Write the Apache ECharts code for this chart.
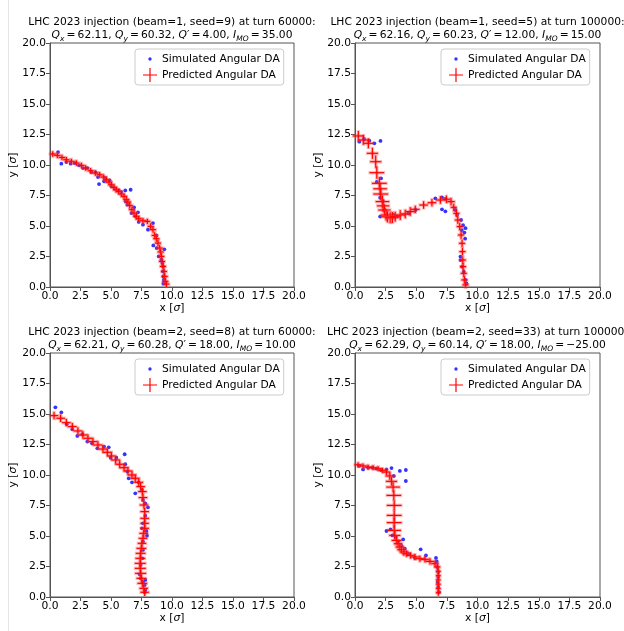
<!DOCTYPE html>
<html>
<head>
<meta charset="utf-8">
<script src="https://cdn.jsdelivr.net/npm/echarts@6/dist/echarts.min.js"></script>
<style>html,body{margin:0;padding:0;background:#fff}#c{width:624px;height:631px}</style>
</head>
<body>
<div id="c"></div>
<script>
// ---------- DATA ----------
const xTicks = [0, 2.5, 5, 7.5, 10, 12.5, 15, 17.5, 20];
const yTicks = [0, 2.5, 5, 7.5, 10, 12.5, 15, 17.5, 20];
const legendNames = ['Simulated Angular DA', 'Predicted Angular DA'];

const titles1 = [
  'LHC 2023 injection (beam=1, seed=9) at turn 60000:',
  'LHC 2023 injection (beam=1, seed=5) at turn 100000:',
  'LHC 2023 injection (beam=2, seed=8) at turn 60000:',
  'LHC 2023 injection (beam=2, seed=33) at turn 100000:'
];
const qx = ['62.11', '62.16', '62.21', '62.29'];
const qy = ['60.32', '60.23', '60.28', '60.14'];
const qp = ['4.00', '12.00', '18.00', '18.00'];
const imo = ['35.00', '15.00', '10.00', '\u221225.00'];

// Simulated angular DA [x, y]
const simTL = [[0.66,11.06],[0.93,10.11],[1.34,10.24],[1.69,10.11],[2.02,10.16],[2.38,9.97],[2.70,9.75],[3.06,9.75],[3.39,9.42],[3.74,9.40],[3.93,9.01],[4.02,8.44],[4.43,8.66],[4.54,8.93],[4.89,8.74],[5.03,8.25],[5.30,8.06],[5.63,7.92],[5.85,7.78],[6.17,7.92],[6.61,7.97],[6.20,7.02],[6.34,6.75],[6.67,6.06],[6.89,6.53],[7.00,5.79],[7.21,6.12],[7.27,5.33],[7.62,5.11],[8.03,4.70],[8.44,5.24],[8.47,3.41],[8.72,4.23],[8.74,3.19],[8.91,2.51],[9.37,3.09],[9.13,2.24],[9.21,1.96],[9.26,1.69],[9.26,1.28],[9.29,0.87],[9.34,0.60],[9.29,0.27]];
const simTR = [[0.35,11.91],[0.74,12.13],[1.17,11.99],[1.58,11.78],[2.08,11.97],[2.13,8.91],[1.78,8.61],[2.05,7.32],[2.27,7.05],[2.40,6.37],[2.05,5.77],[2.60,5.82],[3.14,5.90],[3.47,5.77],[4.37,6.04],[4.95,6.31],[6.56,7.27],[7.10,7.35],[7.38,7.22],[7.10,6.37],[7.38,6.20],[8.20,6.31],[8.33,5.90],[8.66,5.49],[8.82,5.06],[9.02,4.82],[8.93,4.46],[8.99,3.96],[8.72,4.67],[8.61,2.49],[8.61,2.21],[8.74,1.67],[8.88,1.26],[9.02,0.58],[9.10,0.30]];
const simBL = [[0.44,15.55],[0.93,15.14],[1.37,14.16],[1.83,13.75],[2.24,13.20],[2.65,13.34],[3.06,12.74],[3.44,12.60],[3.88,12.19],[4.43,12.33],[4.81,12.27],[4.97,11.42],[5.44,11.42],[6.12,11.70],[6.17,10.88],[6.34,10.28],[6.45,9.73],[6.72,9.40],[6.99,8.50],[7.27,9.40],[7.54,8.77],[7.62,7.95],[7.81,7.68],[8.03,7.35],[7.81,6.67],[7.62,6.04],[7.54,5.63],[7.90,5.41],[7.95,5.03],[7.62,4.54],[7.62,3.86],[7.57,3.17],[7.43,2.63],[7.35,1.86],[7.43,1.53],[7.81,1.40],[7.62,1.21],[7.76,0.99],[7.81,0.58],[7.76,0.39]];
const simBR = [[0.33,10.74],[0.66,10.46],[1.07,10.60],[1.42,10.60],[1.75,10.52],[2.16,10.38],[2.57,10.46],[2.98,10.57],[3.17,9.92],[3.66,10.33],[4.15,10.41],[4.15,9.51],[2.57,5.41],[2.90,5.55],[3.06,5.05],[3.33,4.92],[3.93,4.72],[3.52,4.56],[3.80,4.18],[4.07,3.96],[4.34,3.55],[4.89,3.20],[5.36,3.91],[5.79,3.41],[6.61,3.20],[6.67,2.92],[6.72,2.46],[6.80,2.05],[6.80,1.64],[6.75,1.23],[6.80,0.82],[6.86,0.41]];

// Predicted angular DA [x, y, xerr, yerr]
const predTL = [[0.22,10.90,0.25,0.22],[0.60,10.79,0.25,0.22],[0.98,10.62,0.25,0.22],[1.34,10.43,0.25,0.22],[1.75,10.30,0.25,0.22],[2.16,10.16,0.25,0.22],[2.57,9.97,0.25,0.22],[2.92,9.75,0.25,0.22],[3.33,9.53,0.25,0.22],[3.72,9.34,0.25,0.22],[4.07,9.20,0.25,0.22],[4.40,9.01,0.25,0.22],[4.62,8.79,0.25,0.22],[4.84,8.60,0.25,0.22],[5.03,8.38,0.25,0.22],[5.25,8.17,0.25,0.22],[5.44,7.97,0.25,0.22],[5.63,7.84,0.25,0.22],[5.85,7.62,0.25,0.22],[6.07,7.43,0.25,0.22],[6.26,7.16,0.25,0.25],[6.39,6.96,0.25,0.25],[6.53,6.69,0.25,0.25],[6.72,6.34,0.25,0.25],[6.89,6.06,0.25,0.25],[7.08,5.79,0.25,0.25],[7.27,5.60,0.25,0.22],[7.62,5.43,0.25,0.22],[7.98,5.38,0.25,0.22],[8.25,4.97,0.25,0.25],[8.44,4.70,0.25,0.25],[8.58,4.23,0.25,0.25],[8.72,3.96,0.25,0.25],[8.85,3.60,0.25,0.25],[8.99,3.19,0.25,0.25],[9.07,2.87,0.25,0.25],[9.13,2.51,0.25,0.25],[9.18,2.10,0.25,0.25],[9.26,1.69,0.25,0.25],[9.34,1.28,0.25,0.25],[9.40,0.87,0.25,0.25],[9.45,0.46,0.25,0.25],[9.54,0.24,0.25,0.25]];
const predTR = [[0.27,12.38,0.45,0.4],[0.68,12.05,0.4,0.4],[1.09,11.78,0.4,0.4],[1.42,10.96,0.45,0.45],[1.69,10.27,0.45,0.5],[1.78,9.37,0.6,0.5],[1.99,8.50,0.6,0.5],[2.05,8.05,0.55,0.5],[2.10,7.62,0.6,0.5],[2.24,7.00,0.55,0.5],[2.30,6.65,0.5,0.5],[2.40,6.31,0.5,0.45],[2.54,5.90,0.45,0.45],[2.65,5.75,0.45,0.45],[2.87,5.68,0.4,0.45],[3.05,5.70,0.4,0.45],[3.28,5.77,0.4,0.4],[3.69,5.90,0.4,0.4],[4.10,5.99,0.35,0.35],[4.51,6.18,0.35,0.35],[4.92,6.37,0.35,0.3],[5.60,6.72,0.35,0.3],[6.28,6.91,0.35,0.3],[6.97,7.13,0.35,0.3],[7.46,7.19,0.3,0.3],[7.84,7.00,0.3,0.3],[8.06,6.53,0.25,0.3],[8.28,6.04,0.25,0.3],[8.39,5.49,0.25,0.3],[8.55,4.95,0.25,0.3],[8.66,4.26,0.25,0.3],[8.74,3.58,0.25,0.3],[8.77,2.90,0.25,0.3],[8.80,2.21,0.25,0.3],[8.82,1.67,0.25,0.3],[8.88,1.12,0.25,0.3],[8.93,0.58,0.25,0.3],[9.02,0.17,0.25,0.25]];
const predBL = [[0.33,14.87,0.35,0.3],[0.87,14.65,0.35,0.3],[1.34,14.29,0.35,0.3],[1.83,13.97,0.35,0.3],[2.29,13.61,0.35,0.3],[2.70,13.28,0.35,0.3],[3.11,13.01,0.35,0.3],[3.52,12.74,0.35,0.3],[3.93,12.46,0.35,0.3],[4.34,12.13,0.35,0.3],[4.70,11.86,0.35,0.3],[5.03,11.56,0.35,0.3],[5.38,11.23,0.35,0.3],[5.71,10.88,0.35,0.3],[6.07,10.60,0.35,0.3],[6.39,10.33,0.35,0.3],[6.72,10.00,0.35,0.3],[6.99,9.73,0.35,0.3],[7.27,9.40,0.35,0.3],[7.43,9.05,0.35,0.3],[7.57,8.64,0.35,0.3],[7.62,8.15,0.35,0.3],[7.70,7.54,0.35,0.3],[7.76,7.00,0.35,0.3],[7.76,6.45,0.35,0.3],[7.76,6.04,0.35,0.3],[7.76,5.63,0.35,0.3],[7.68,5.22,0.35,0.3],[7.62,4.81,0.35,0.3],[7.54,4.40,0.35,0.3],[7.49,3.99,0.4,0.3],[7.43,3.58,0.4,0.3],[7.40,3.17,0.4,0.3],[7.40,2.76,0.45,0.3],[7.40,2.35,0.45,0.3],[7.43,1.94,0.45,0.3],[7.49,1.53,0.4,0.3],[7.57,1.12,0.4,0.3],[7.68,0.71,0.35,0.3],[7.76,0.39,0.35,0.3]];
const predBR = [[0.25,10.84,0.3,0.2],[0.66,10.74,0.3,0.2],[1.07,10.65,0.3,0.2],[1.48,10.60,0.3,0.2],[1.89,10.52,0.3,0.2],[2.24,10.38,0.3,0.2],[2.57,10.24,0.3,0.25],[2.84,9.92,0.35,0.3],[2.98,9.48,0.45,0.35],[3.11,9.01,0.55,0.4],[3.17,8.33,0.6,0.4],[3.20,7.51,0.6,0.4],[3.20,6.69,0.6,0.4],[3.20,6.10,0.6,0.4],[3.20,5.46,0.55,0.4],[3.25,5.05,0.45,0.35],[3.39,4.64,0.4,0.35],[3.52,4.37,0.35,0.3],[3.66,4.10,0.35,0.3],[3.80,3.88,0.35,0.3],[3.99,3.69,0.35,0.3],[4.21,3.55,0.35,0.25],[4.53,3.41,0.35,0.25],[4.89,3.28,0.35,0.25],[5.30,3.14,0.35,0.25],[5.71,3.09,0.35,0.25],[6.12,2.92,0.35,0.25],[6.53,2.73,0.3,0.25],[6.72,2.46,0.25,0.25],[6.80,2.10,0.2,0.25],[6.80,1.75,0.2,0.25],[6.80,1.40,0.2,0.25],[6.80,1.05,0.2,0.25],[6.80,0.70,0.2,0.25],[6.80,0.35,0.2,0.25]];

const simAll = [simTL, simTR, simBL, simBR];
const predAll = [predTL, predTR, predBL, predBR];

// ---------- LAYOUT ----------
const FONT = 'DejaVu Sans';
const FS = 10.7;
const grids = [
  {left: 50, top: 43, width: 244, height: 244},
  {left: 355, top: 43, width: 245, height: 244},
  {left: 50, top: 353, width: 244, height: 244},
  {left: 355, top: 353, width: 245, height: 244}
];
const legendPos = [[135, 49], [441, 49], [135, 359], [441, 359]];
const titleY = [[22, 35], [22, 35], [332, 345], [332, 345]];

function crossItem(params, api) {
  const x = api.value(0), y = api.value(1), ex = api.value(2), ey = api.value(3);
  const c = api.coord([x, y]);
  const l = api.coord([x - ex, y]), r = api.coord([x + ex, y]);
  const t = api.coord([x, y + ey]), b = api.coord([x, y - ey]);
  const halo = {stroke: 'rgba(255,60,60,0.35)', lineWidth: 3.5};
  const core = {stroke: '#ff0000', lineWidth: 1.2};
  return {type: 'group', children: [
    {type: 'line', shape: {x1: l[0] - 1, y1: c[1], x2: r[0] + 1, y2: c[1]}, style: halo},
    {type: 'line', shape: {x1: c[0], y1: t[1] - 1, x2: c[0], y2: b[1] + 1}, style: halo},
    {type: 'line', shape: {x1: l[0], y1: c[1], x2: r[0], y2: c[1]}, style: core},
    {type: 'line', shape: {x1: c[0], y1: t[1], x2: c[0], y2: b[1]}, style: core}
  ]};
}

const xAxes = [], yAxes = [], series = [], legends = [], graphics = [];
const axisCommon = {
  min: 0, max: 20, interval: 2.5,
  axisLine: {show: true, onZero: false, lineStyle: {color: '#555', width: 1}},
  axisTick: {show: true, inside: false, length: 4, lineStyle: {color: '#555'}},
  splitLine: {show: false},
  axisLabel: {color: '#000', fontFamily: FONT, fontSize: FS, formatter: v => v.toFixed(1)}
};
const nameRich = {
  n: {fontFamily: FONT, fontSize: FS, color: '#000'},
  i: {fontFamily: FONT, fontSize: FS, color: '#000', fontStyle: 'italic'}
};

for (let k = 0; k < 4; k++) {
  xAxes.push(Object.assign({}, axisCommon, {
    type: 'value', gridIndex: k, name: '{n|x [}{i|\u03c3}{n|]}',
    nameLocation: 'middle', nameGap: 16, nameTextStyle: {rich: nameRich},
    axisLabel: Object.assign({}, axisCommon.axisLabel, {margin: 4})
  }));
  yAxes.push(Object.assign({}, axisCommon, {
    type: 'value', gridIndex: k, name: '{n|y [}{i|\u03c3}{n|]}',
    nameLocation: 'middle', nameGap: 28, nameRotate: 90, nameTextStyle: {rich: nameRich},
    axisLabel: Object.assign({}, axisCommon.axisLabel, {margin: 4})
  }));
  series.push({
    type: 'scatter', name: legendNames[0], xAxisIndex: k, yAxisIndex: k,
    data: simAll[k], symbol: 'circle', symbolSize: 3.8,
    itemStyle: {color: '#0000ff'}, z: 2, silent: true
  });
  series.push({
    type: 'custom', name: legendNames[1], xAxisIndex: k, yAxisIndex: k,
    data: predAll[k], renderItem: crossItem, itemStyle: {color: '#ff0000'}, z: 3, silent: true,
    encode: {x: 0, y: 1}
  });
  legends.push({
    left: legendPos[k][0], top: legendPos[k][1], orient: 'vertical',
    backgroundColor: 'rgba(255,255,255,0.8)', borderColor: '#cccccc', borderWidth: 1, borderRadius: 3,
    padding: [3, 4, 3, 8], itemGap: 2, itemWidth: 14, itemHeight: 14, itemTextGap: 11,
    selectedMode: false,
    textStyle: {fontFamily: FONT, fontSize: FS, color: '#000'},
    data: [
      {name: legendNames[0], icon: 'path://M0,0L0.01,0M14,14L14.01,14M7,5.3A1.7,1.7,0,1,1,7,8.7A1.7,1.7,0,1,1,7,5.3Z'},
      {name: legendNames[1], icon: 'path://M6.4,0H7.6V6.4H14V7.6H7.6V14H6.4V7.6H0V6.4H6.4Z'}
    ]
  });
  const cx = grids[k].left + grids[k].width / 2;
  graphics.push({
    type: 'text', x: cx, y: titleY[k][0],
    style: {text: titles1[k], fontFamily: FONT, fontSize: FS, fill: '#000', align: 'center', verticalAlign: 'middle'}
  });
  const rich = {
    n: {fontFamily: FONT, fontSize: FS, fill: '#000', lineHeight: 16},
    i: {fontFamily: FONT, fontSize: FS, fill: '#000', fontStyle: 'italic', lineHeight: 16},
    s: {fontFamily: FONT, fontSize: 7.5, fill: '#000', fontStyle: 'italic', verticalAlign: 'bottom'}
  };
  graphics.push({
    type: 'text', x: cx, y: titleY[k][1],
    style: {
      text: '{i|Q}{s|x}{n|\u2009=\u2009' + qx[k] + ', }' +
            '{i|Q}{s|y}{n|\u2009=\u2009' + qy[k] + ', }' +
            '{i|Q}{n|\u2032\u2009=\u2009' + qp[k] + ', }' +
            '{i|I}{s|MO}{n|\u2009=\u2009' + imo[k] + '}',
      rich: rich, align: 'center', verticalAlign: 'middle'
    }
  });
}
graphics.push({type: 'line', shape: {x1: 8.5, y1: 0, x2: 8.5, y2: 631}, style: {stroke: '#e4e4e4', lineWidth: 1}, z: -10});

const chart = echarts.init(document.getElementById('c'), null, {renderer: 'canvas'});
chart.setOption({
  animation: false,
  backgroundColor: '#ffffff',
  grid: grids.map(g => Object.assign({show: true, borderColor: '#555', borderWidth: 1, backgroundColor: 'transparent', containLabel: false}, g)),
  xAxis: xAxes,
  yAxis: yAxes,
  legend: legends,
  graphic: graphics,
  series: series
});
</script>
</body>
</html>
